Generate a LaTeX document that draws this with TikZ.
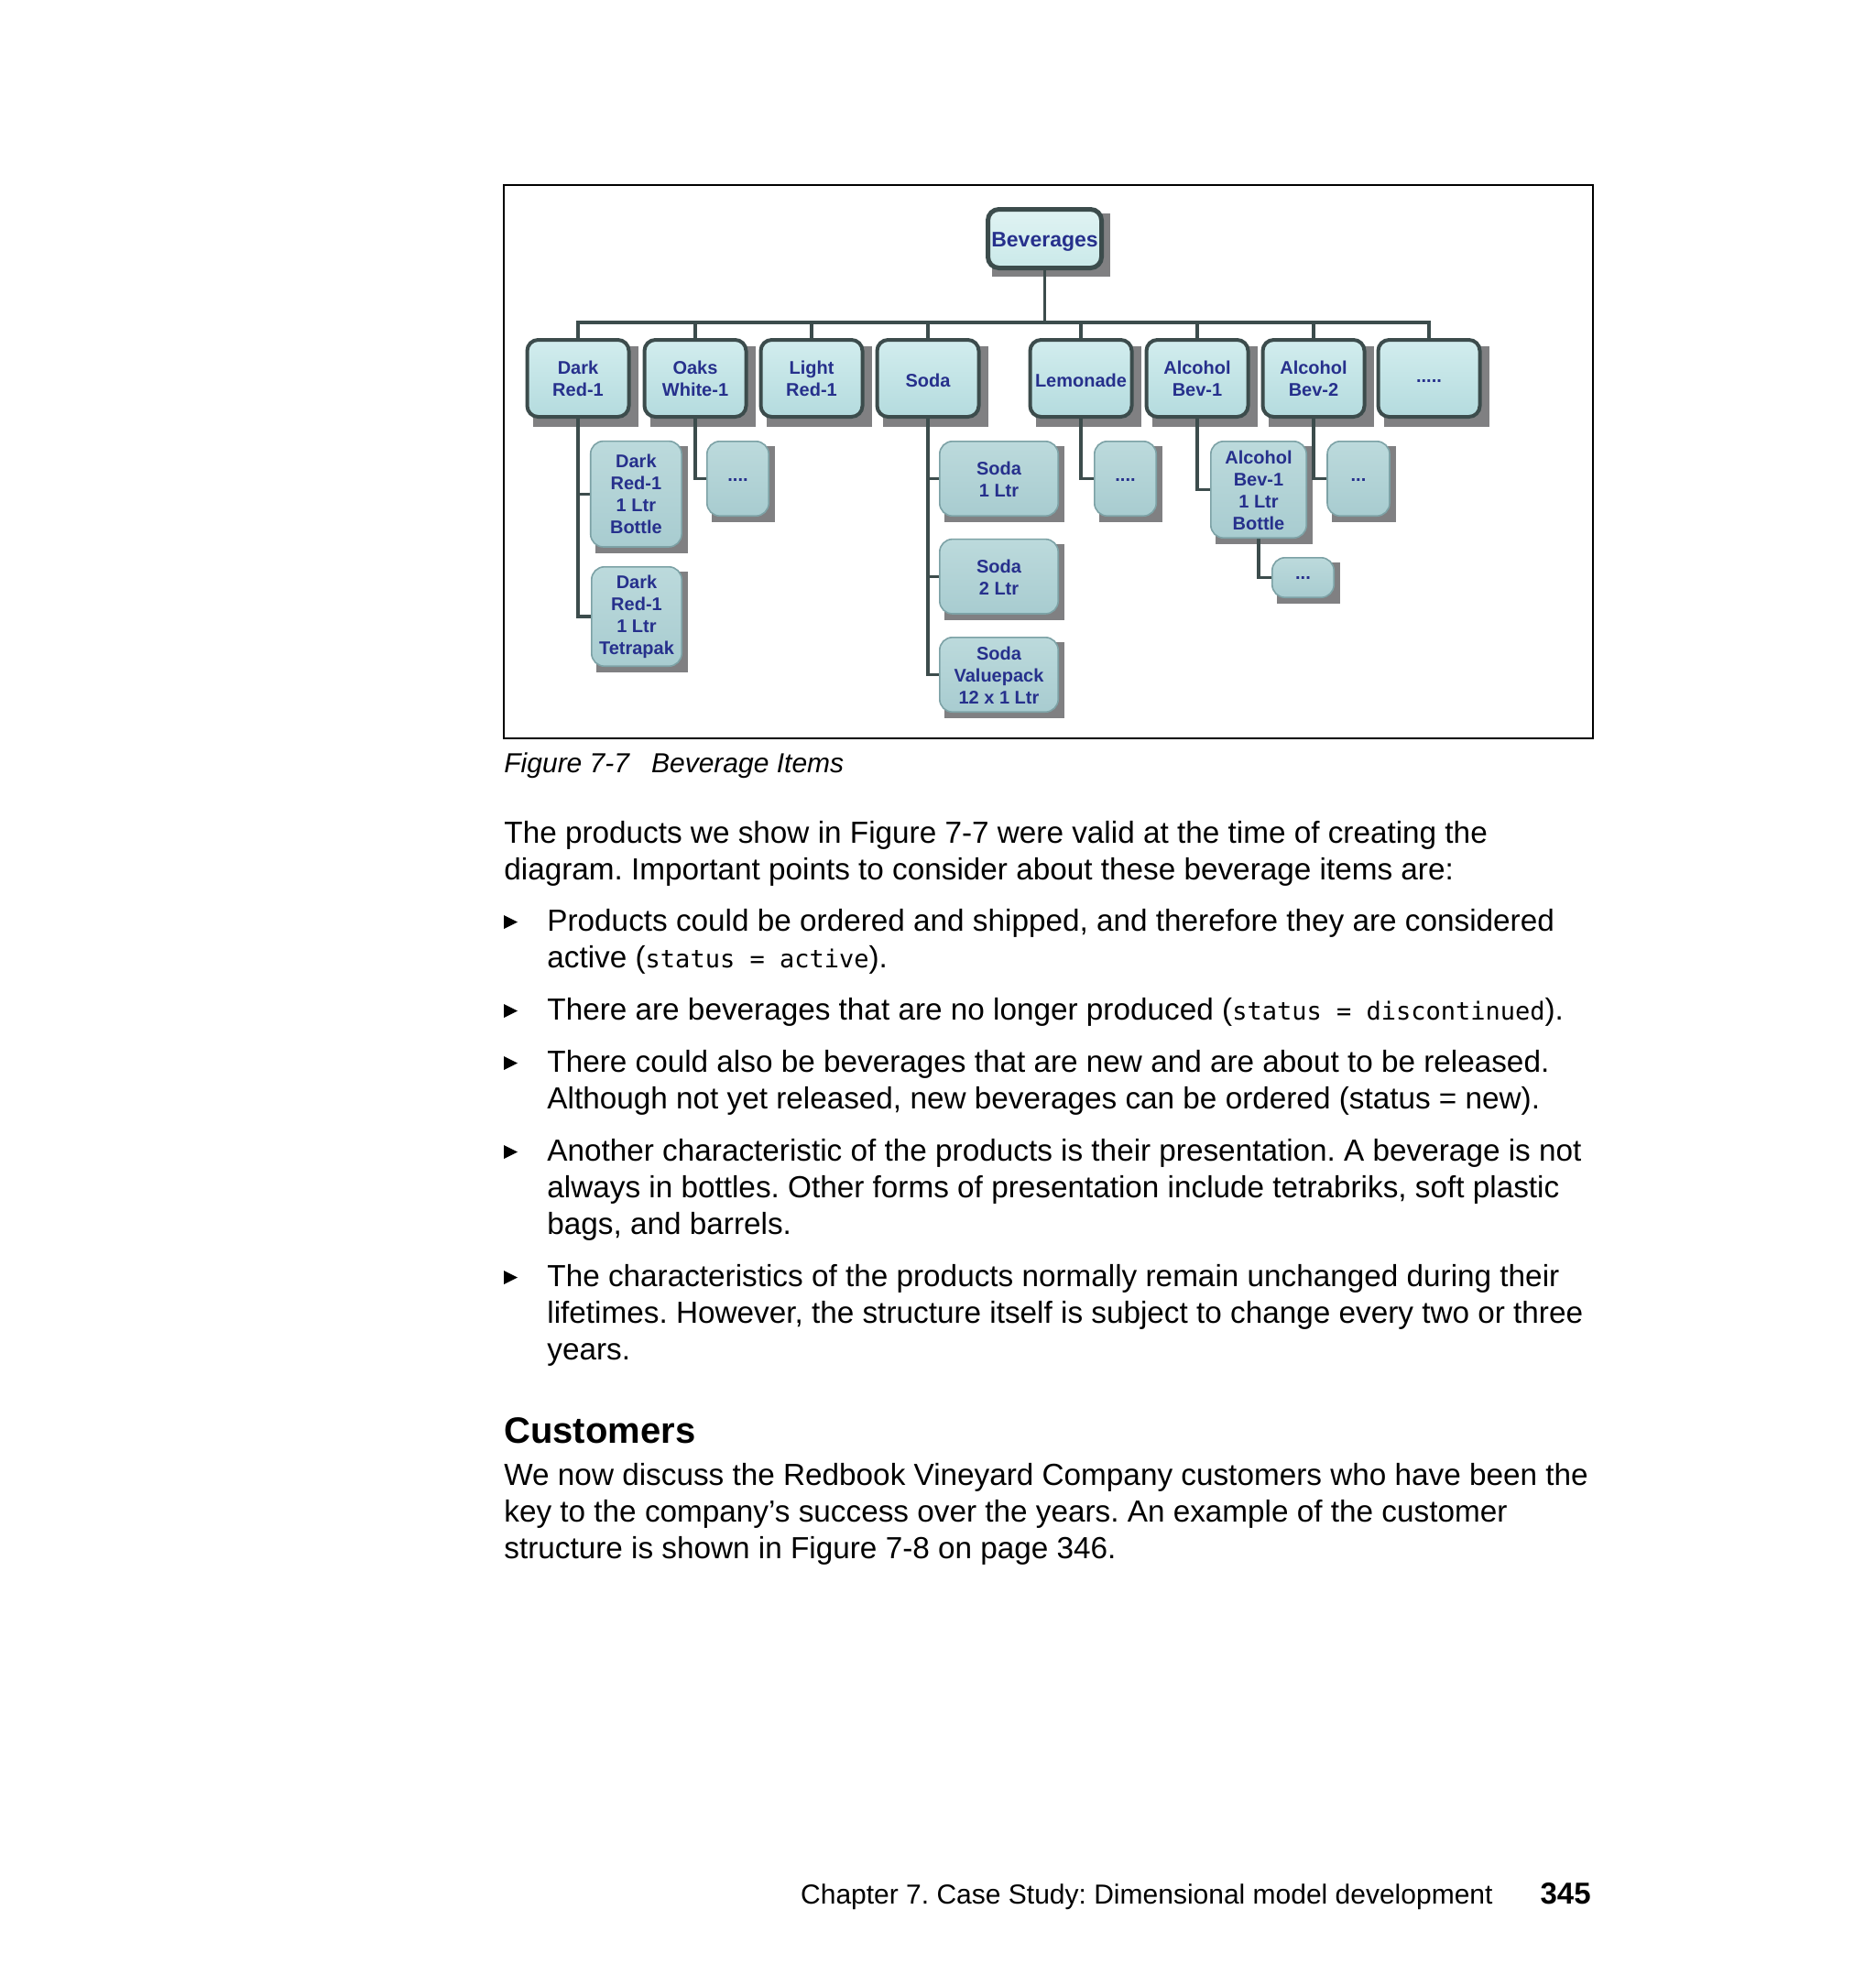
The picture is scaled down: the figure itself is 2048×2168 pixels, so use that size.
\documentclass[tikz,border=0pt]{standalone}
\usepackage{fontspec}
\setmainfont{Liberation Sans}
\newfontfamily\monofont{DejaVu Sans Mono}
\newcommand{\mytt}[1]{{\monofont\fontsize{13.5}{16}\selectfont #1}}
\newcommand{\up}[1]{\rule{0pt}{#1}}
\definecolor{lineC}{RGB}{60,76,76}
\definecolor{txtC}{RGB}{38,48,140}
\definecolor{shadowC}{RGB}{128,128,130}
\definecolor{topA}{RGB}{210,237,238}
\definecolor{botA}{RGB}{180,219,222}
\definecolor{topR}{RGB}{224,243,243}
\definecolor{botR}{RGB}{202,233,233}
\definecolor{topB}{RGB}{188,218,220}
\definecolor{botB}{RGB}{168,204,208}
\definecolor{borB}{RGB}{125,162,166}
\pgfdeclarelayer{shadowlayer}
\pgfdeclarelayer{linelayer}
\pgfsetlayers{shadowlayer,linelayer,main}
\tikzset{
  rootbox/.style={draw=lineC, line width=2.5pt, rounded corners=6pt,
    top color=topR, bottom color=botR, minimum width=62pt, minimum height=32pt,
    inner sep=0pt, align=center, text=txtC, font=\bfseries\fontsize{11.5}{13}\selectfont},
  topbox/.style={draw=lineC, line width=2pt, rounded corners=6pt,
    top color=topA, bottom color=botA, minimum width=55.5pt, minimum height=42pt,
    inner sep=0pt, align=center, text=txtC, font=\bfseries\fontsize{10}{12}\selectfont},
  subbox/.style={draw=borB, line width=0.8pt, rounded corners=7pt,
    top color=topB, bottom color=botB,
    inner sep=0pt, align=center, text=txtC, font=\bfseries\fontsize{10}{12}\selectfont},
  conn/.style={draw=lineC, line width=1.8pt},
  body/.style={anchor=base west, inner sep=0pt, font=\fontsize{16.65}{20}\selectfont},
}
\newcommand{\shadowof}[3]{\fill[shadowC] ([shift={(#2,#3)}]#1.north west) rectangle ([shift={(#2,#3)}]#1.south east);}
\newcommand{\bul}[1]{\fill (550,#1-17) -- (565,#1-9.5) -- (550,#1-2) -- cycle;}
\begin{document}
\frenchspacing
\begin{tikzpicture}[x=0.5pt,y=-0.5pt]
\useasboundingbox (0,0) rectangle (2048,2168);
\begin{pgfonlayer}{shadowlayer}
\fill[white] (0,0) rectangle (2048,2168);
\end{pgfonlayer}

% figure frame
\draw[line width=1.2pt] (550,202) rectangle (1739,806);

% root
\node[rootbox] (bev) at (1140.5,260.5) {\up{11.5pt}Beverages};
% level 1
\node[topbox] (dr1) at (631,413) {\up{8pt}Dark\\Red-1};
\node[topbox] (ow1) at (759,413) {\up{8pt}Oaks\\White-1};
\node[topbox] (lr1) at (886,413) {\up{8pt}Light\\Red-1};
\node[topbox] (soda) at (1013,413) {\up{9.5pt}Soda};
\node[topbox] (lem) at (1180,413) {\up{9.5pt}Lemonade};
\node[topbox] (ab1) at (1307,413) {\up{8pt}Alcohol\\Bev-1};
\node[topbox] (ab2) at (1434,413) {\up{8pt}Alcohol\\Bev-2};
\node[topbox] (more) at (1560,413) {\up{4pt}.....};
% level 2
\node[subbox, minimum width=49.7pt, minimum height=57.7pt] (drb) at (694.4,539.3) {Dark\\Red-1\\1 Ltr\\Bottle};
\node[subbox, minimum width=49.2pt, minimum height=54.2pt] (drt) at (695,673) {Dark\\Red-1\\1 Ltr\\Tetrapak};
\node[subbox, minimum width=33.7pt, minimum height=40.7pt] (owd) at (805.5,522.5) {\up{3pt}....};
\node[subbox, minimum width=64.7pt, minimum height=40.7pt] (s1) at (1090.5,522.5) {\up{8pt}Soda\\1 Ltr};
\node[subbox, minimum width=64.7pt, minimum height=40.7pt] (s2) at (1090.5,629.3) {\up{8pt}Soda\\2 Ltr};
\node[subbox, minimum width=64.7pt, minimum height=40.7pt] (sv) at (1090.5,736.5) {\up{8pt}Soda\\Valuepack\\12 x 1 Ltr};
\node[subbox, minimum width=33.7pt, minimum height=40.7pt] (ld) at (1228.5,522.5) {\up{3pt}....};
\node[subbox, minimum width=52.2pt, minimum height=52.7pt] (a1b) at (1374,534.5) {\up{8pt}Alcohol\\Bev-1\\1 Ltr\\Bottle};
\node[subbox, minimum width=34pt, minimum height=40.7pt] (a2d) at (1483,522.5) {\up{3pt}...};
\node[subbox, minimum width=33.7pt, minimum height=21.7pt] (a1bd) at (1422.5,630.5) {\up{2pt}...};

% shadows
\begin{pgfonlayer}{shadowlayer}
\shadowof{bev}{7}{7}
\foreach \n in {dr1,ow1,lr1,soda,lem,ab1,ab2,more} {\shadowof{\n}{8}{9}}
\foreach \n in {drb,drt,owd,s1,s2,sv,ld,a1b,a2d,a1bd} {\shadowof{\n}{6}{6}}
\end{pgfonlayer}

% connectors
\coordinate (bus) at (0,352);
\begin{pgfonlayer}{linelayer}
\foreach \n in {dr1,ow1,lr1,soda,lem,ab1,ab2,more} {
  \draw[conn] (bev.south) -- (bev.south |- bus) -| (\n.north);
}
\draw[conn] (dr1.south) |- (drb.west);
\draw[conn] (dr1.south) |- (drt.west);
\draw[conn] (ow1.south) |- (owd.west);
\draw[conn] (soda.south) |- (s1.west);
\draw[conn] (soda.south) |- (s2.west);
\draw[conn] (soda.south) |- (sv.west);
\draw[conn] (lem.south) |- (ld.west);
\draw[conn] (ab1.south) |- (a1b.west);
\draw[conn] (ab2.south) |- (a2d.west);
\draw[conn] (a1b.south) |- (a1bd.west);
\end{pgfonlayer}

% caption
\node[anchor=base west, inner sep=0pt, font=\itshape\fontsize{15}{18}\selectfont] (cap) at (550,843) {Figure 7-7\hspace*{12pt}Beverage Items};

% body text
\node[body] (p1) at (550,920) {The products we show in Figure 7-7 were valid at the time of creating the};
\node[body] (p2) at (550,960) {diagram. Important points to consider about these beverage items are:};

\bul{1016}
\node[body] (b1a) at (597,1016) {Products could be ordered and shipped, and therefore they are considered};
\node[body] (b1b) at (597,1056) {active (\mytt{status = active}).};
\bul{1113}
\node[body] (b2a) at (597,1113) {There are beverages that are no longer produced (\mytt{status = discontinued}).};
\bul{1170}
\node[body] (b3a) at (597,1170) {There could also be beverages that are new and are about to be released.};
\node[body] (b3b) at (597,1210) {Although not yet released, new beverages can be ordered (status = new).};
\bul{1267}
\node[body] (b4a) at (597,1267) {Another characteristic of the products is their presentation. A beverage is not};
\node[body] (b4b) at (597,1307) {always in bottles. Other forms of presentation include tetrabriks, soft plastic};
\node[body] (b4c) at (597,1347) {bags, and barrels.};
\bul{1404}
\node[body] (b5a) at (597,1404) {The characteristics of the products normally remain unchanged during their};
\node[body] (b5b) at (597,1444) {lifetimes. However, the structure itself is subject to change every two or three};
\node[body] (b5c) at (597,1484) {years.};

\node[anchor=base west, inner sep=0pt, font=\bfseries\fontsize{20}{24}\selectfont] (head) at (550,1575) {Customers};
\node[body] (c1) at (550,1621) {We now discuss the Redbook Vineyard Company customers who have been the};
\node[body] (c2) at (550,1661) {key to the company’s success over the years. An example of the customer};
\node[body] (c3) at (550,1701) {structure is shown in Figure 7-8 on page 346.};

% footer
\node[anchor=base east, inner sep=0pt, font=\fontsize{15}{18}\selectfont] (foot) at (1630,2078) {Chapter 7. Case Study: Dimensional model development};
\node[anchor=base east, inner sep=0pt, font=\bfseries\fontsize{16.5}{20}\selectfont] (pg) at (1737,2078) {345};
\end{tikzpicture}
\end{document}
